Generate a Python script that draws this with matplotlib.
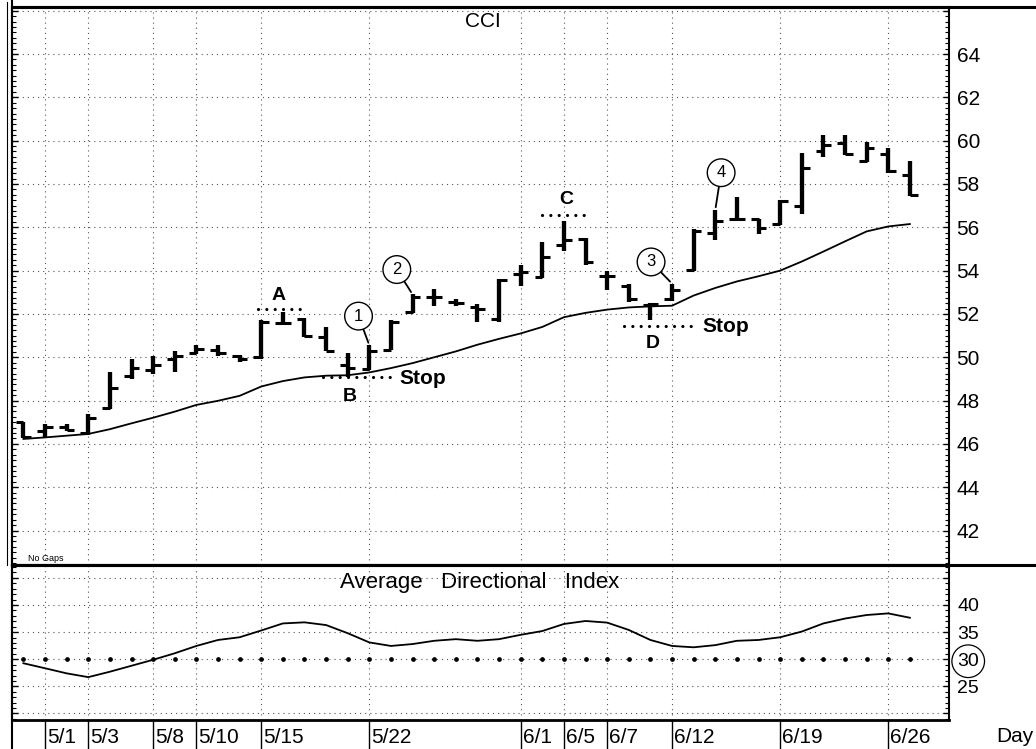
import matplotlib
matplotlib.use('Agg')
import matplotlib.pyplot as plt
from matplotlib.lines import Line2D
from matplotlib.ticker import MultipleLocator
import numpy as np

plt.rcParams['font.family'] = ['Liberation Sans', 'DejaVu Sans']

# ---------------- data ----------------
trade_dates = ['4/30', '5/1', '5/2', '5/3', '5/4', '5/7', '5/8', '5/9', '5/10', '5/11',
               '5/14', '5/15', '5/16', '5/17', '5/18', '5/21', '5/22', '5/23', '5/24', '5/25',
               '5/29', '5/30', '5/31', '6/1', '6/4', '6/5', '6/6', '6/7', '6/8', '6/11',
               '6/12', '6/13', '6/14', '6/15', '6/18', '6/19', '6/20', '6/21', '6/22', '6/25',
               '6/26', '6/27']
date_labels = ['5/1', '5/3', '5/8', '5/10', '5/15', '5/22', '6/1', '6/5', '6/7', '6/12', '6/19', '6/26']

opens = [47.0, 46.6, 46.8, 46.5, 47.65, 49.15, 49.4, 49.9, 50.2, 50.35, 50.05, 50.0, 51.6, 51.75,
         50.95, 49.65, 49.45, 50.35, 52.1, 52.8, 52.55, 52.3, 51.75, 53.85, 53.7, 55.2, 55.45,
         53.75, 53.3, 52.4, 52.7, 54.05, 55.75, 56.4, 56.4, 56.15, 57.0, 59.5, 59.9, 59.05, 59.4, 58.4]
highs = [47.0, 46.9, 46.9, 47.4, 49.3, 49.9, 50.05, 50.3, 50.55, 50.55, 50.1, 51.7, 52.1, 51.8,
         51.4, 50.2, 50.55, 51.7, 52.9, 53.15, 52.7, 52.45, 53.6, 54.25, 55.3, 56.3, 55.5,
         54.0, 53.4, 52.5, 53.4, 55.9, 56.8, 57.4, 56.4, 57.25, 59.45, 60.25, 60.25, 59.95, 59.65, 59.05]
lows = [46.25, 46.25, 46.6, 46.4, 47.6, 49.0, 49.25, 49.3, 50.15, 50.05, 49.8, 49.9, 51.5, 50.95,
        50.3, 49.1, 49.4, 50.35, 52.05, 52.35, 52.35, 51.65, 51.65, 53.3, 53.65, 54.9, 54.25,
        53.1, 52.55, 51.7, 52.6, 54.0, 55.4, 56.3, 55.7, 56.1, 56.6, 59.25, 59.35, 59.0, 58.5, 57.45]
closes = [46.3, 46.8, 46.65, 47.2, 48.6, 49.5, 49.65, 50.05, 50.4, 50.2, 49.9, 51.65, 51.6, 51.0,
          50.3, 49.5, 50.3, 51.65, 52.8, 52.8, 52.5, 52.25, 53.55, 53.95, 54.65, 55.4, 54.4,
          53.75, 52.7, 52.45, 53.1, 55.85, 56.3, 56.4, 55.95, 57.2, 58.75, 59.8, 59.4, 59.65, 58.6, 57.5]
moving_avg = [46.23, 46.3, 46.38, 46.46, 46.68, 46.95, 47.21, 47.49, 47.8, 47.99, 48.22, 48.65,
              48.9, 49.07, 49.15, 49.17, 49.3, 49.5, 49.73, 50.0, 50.27, 50.58, 50.85, 51.1,
              51.4, 51.85, 52.05, 52.2, 52.3, 52.35, 52.38, 52.85, 53.2, 53.5, 53.74, 54.0,
              54.42, 54.88, 55.35, 55.81, 56.04, 56.15]
adx = [29.26, 28.34, 27.4, 26.7, 27.7, 28.8, 29.9, 31.1, 32.45, 33.55, 34.05, 35.3, 36.6, 36.8,
       36.3, 34.8, 33.1, 32.45, 32.8, 33.4, 33.7, 33.4, 33.7, 34.5, 35.2, 36.5, 37.05, 36.75,
       35.4, 33.55, 32.45, 32.2, 32.6, 33.4, 33.55, 34.05, 35.1, 36.6, 37.5, 38.15, 38.45, 37.65]
adx_threshold = 30

price_ticks = [42, 44, 46, 48, 50, 52, 54, 56, 58, 60, 62, 64]
adx_ticks = [25, 30, 35, 40]

level_A = 52.25
level_B = 49.1
level_C = 56.55
level_D = 51.45
signal_bars = {'1': '5/22', '2': '5/24', '3': '6/12', '4': '6/14'}

# ---------------- figure ----------------
W, H = 1036, 749
fig = plt.figure(figsize=(W / 100, H / 100), dpi=100)
fig.patch.set_facecolor('white')


def fx(px):
    return px / W


def fy(py):
    return 1 - py / H


x = np.arange(len(opens))
label_idx = [trade_dates.index(d) for d in date_labels]

ax1 = fig.add_axes([fx(12), fy(565), fx(949) - fx(12), fy(7) - fy(565)])
ax2 = fig.add_axes([fx(12), fy(720), fx(949) - fx(12), fy(565) - fy(720)])

grid_kw = dict(color='#555555', lw=0.8, ls=(0, (1, 3.6)))

# ---- price panel ----
ax1.set_xlim(-0.527, 42.81)
ax1.set_ylim(40.41, 66.17)
ax1.vlines(x, lows, highs, color='black', lw=3.1, zorder=3)
ax1.hlines(opens, x - 0.36, x, color='black', lw=2.2, zorder=3)
ax1.hlines(closes, x, x + 0.36, color='black', lw=2.2, zorder=3)
ax1.plot(x, moving_avg, color='black', lw=1.3, zorder=2)

ax1.set_yticks(price_ticks + [66])
ax1.set_yticklabels([str(v) for v in price_ticks] + [''])
ax1.yaxis.set_minor_locator(MultipleLocator(0.25))
ax1.tick_params(axis='y', which='both', left=True, right=True, labelleft=False,
                labelright=True, direction='in', labelsize=15, pad=5.5)
ax1.tick_params(axis='y', which='major', length=4, width=1.0)
ax1.tick_params(axis='y', which='minor', length=3, width=0.8)
ax1.set_xticks(label_idx)
ax1.tick_params(axis='x', bottom=False, labelbottom=False)
ax1.grid(True, which='major', **grid_kw)
ax1.set_axisbelow(True)
for s in ax1.spines.values():
    s.set_linewidth(1.5)
ax1.spines['top'].set_linewidth(2.2)

ax1.text(0.5027, 0.974, 'CCI', transform=ax1.transAxes, ha='center', va='center', fontsize=15)
ax1.text(0.017, 0.012, 'No Gaps', transform=ax1.transAxes, ha='left', va='center', fontsize=6.5)

dot_kw = dict(color='black', lw=2.3, ls=(0, (0.01, 2.6)), dash_capstyle='round', zorder=4)
ax1.plot([10.85, 12.9], [level_A, level_A], **dot_kw)
ax1.plot([13.85, 17.05], [level_B, level_B], **dot_kw)
ax1.plot([24.0, 26.1], [level_C, level_C], **dot_kw)
ax1.plot([27.8, 31.2], [level_D, level_D], **dot_kw)

bold_kw = dict(fontsize=14, fontweight='bold', ha='center', va='center')
ax1.text(11.8, 52.85, 'A', **bold_kw)
ax1.text(15.1, 48.18, 'B', **bold_kw)
ax1.text(25.1, 57.3, 'C', **bold_kw)
ax1.text(29.1, 50.65, 'D', **bold_kw)
ax1.text(17.4, level_B - 0.1, 'Stop', fontsize=15, fontweight='bold', ha='left', va='center')
ax1.text(31.4, level_D - 0.05, 'Stop', fontsize=15, fontweight='bold', ha='left', va='center')

circle_pos = {'1': (15.5, 51.9), '2': (17.27, 54.05), '3': (29.03, 54.4), '4': (32.27, 58.52)}
for num, d in signal_bars.items():
    i = trade_dates.index(d)
    ax1.annotate(num, xy=(i, highs[i]), xytext=circle_pos[num], fontsize=12,
                 ha='center', va='center',
                 bbox=dict(boxstyle='circle,pad=0.38', fc='white', ec='black', lw=1.0),
                 arrowprops=dict(arrowstyle='-', color='black', lw=1.3, shrinkA=0, shrinkB=2),
                 zorder=5)

# ---- ADX panel ----
ax2.set_xlim(-0.527, 42.81)
ax2.set_ylim(18.8, 47.37)
ax2.plot(x, adx, color='black', lw=1.3, zorder=3)
ax2.plot(x, [adx_threshold] * len(x), ls='none', marker='o', ms=2.4, color='black', zorder=3)
ax2.set_yticks([20] + adx_ticks + [45])
ax2.set_yticklabels([''] + [str(v) for v in adx_ticks] + [''])
ax2.yaxis.set_minor_locator(MultipleLocator(1))
ax2.tick_params(axis='y', which='both', left=True, right=True, labelleft=False,
                labelright=True, direction='in', labelsize=14, pad=6)
ax2.tick_params(axis='y', which='major', length=4, width=1.0)
ax2.tick_params(axis='y', which='minor', length=3, width=0.8)
for t in ax2.get_yticklabels():
    if t.get_text() == '30':
        t.set_bbox(dict(boxstyle='circle,pad=0.28', fc='none', ec='black', lw=0.9))
ax2.set_xticks(label_idx)
ax2.set_xticklabels([''] * len(label_idx))
ax2.tick_params(axis='x', direction='out', length=21, width=1.0, bottom=True)
ax2.grid(True, which='major', **grid_kw)
ax2.set_axisbelow(True)
for s in ax2.spines.values():
    s.set_linewidth(1.5)
ax2.spines['top'].set_linewidth(2.2)
ax2.spines['bottom'].set_linewidth(2.0)

ax2.text(0.4995, 0.889, 'Average   Directional   Index', transform=ax2.transAxes,
         ha='center', va='center', fontsize=16)

for lbl, i in zip(date_labels, label_idx):
    ax2.text(i + 0.1, -0.11, lbl, transform=ax2.get_xaxis_transform(), ha='left',
             va='center', fontsize=15)

fig.text(fx(996), fy(736), 'Day', ha='left', va='center', fontsize=15)

# frame lines
fig.add_artist(Line2D([fx(12), 1.0], [fy(6.5), fy(6.5)], color='black', lw=2.2))
fig.add_artist(Line2D([fx(12), 1.0], [fy(565), fy(565)], color='black', lw=2.2))
fig.add_artist(Line2D([fx(12), fx(12)], [fy(0), fy(749)], color='black', lw=1.5))
fig.add_artist(Line2D([fx(7), fx(7)], [fy(2), fy(565)], color='black', lw=0.8))

fig.savefig('out.png', dpi=100)
